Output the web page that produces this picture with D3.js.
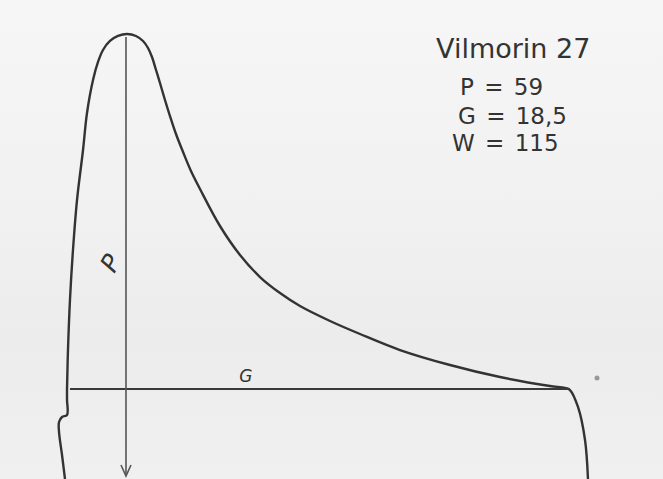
<!doctype html>
<html>
  <head>
    <meta charset="utf-8">
    <script src="https://cdnjs.cloudflare.com/ajax/libs/d3/7.8.5/d3.min.js"></script>
    <style>
      body { margin: 0; background: #f3f3f3; }
      svg { display: block; }
    </style>
  </head>
  <body>
    <div id="viz"></div>
    <script>
      // alveogram, mm on the recording (x = length, y = pressure)
      let curveX = [-0.17, -0.66, -1.16, -1.16, -0.66, 0.17, 0.17, 0.17, 0.33, 0.66, 1.16, 1.83, 2.83, 3.49, 4.49, 5.32, 6.15, 7.31, 8.64, 10.14, 11.63, 12.80, 13.63, 14.29, 14.96, 15.62, 16.45, 17.28, 18.28, 19.45, 20.77, 22.27, 25.59, 28.92, 32.24, 35.57, 38.89, 43.88, 48.86, 55.51, 63.82, 72.13, 80.44, 82.93, 83.76, 85.09, 86.26, 86.75];
      let curveY = [-14.96, -10.97, -7.15, -5.48, -4.65, -4.32, -1.83, 0, 6.48, 14.79, 23.10, 31.41, 39.72, 45.87, 51.35, 54.35, 56.34, 57.84, 58.67, 59, 58.67, 57.84, 56.67, 55.17, 53.02, 50.86, 48.03, 45.37, 42.38, 39.39, 36.23, 33.24, 27.09, 22.27, 18.61, 15.95, 13.79, 11.30, 9.14, 6.48, 3.99, 1.99, 0.50, 0.17, -0.17, -2.99, -8.48, -14.96];

      let baseX = [0.66, 83.76];       // G line
      let arrowX = 9.97;               // P arrow
      let arrowY = [58.5, -14.46];

      let title = "Vilmorin 27";
      let values = ["P = 59", "G = 18,5", "W = 115"];

      var width = 663, height = 479;

      var svg = d3.select("#viz").append("svg")
        .attr("width", width)
        .attr("height", height);

      var defs = svg.append("defs");
      var grad = defs.append("linearGradient")
        .attr("id", "paper").attr("x1", 0).attr("y1", 0).attr("x2", 0).attr("y2", 1);
      grad.append("stop").attr("offset", "0%").attr("stop-color", "#f6f6f6");
      grad.append("stop").attr("offset", "45%").attr("stop-color", "#f1f1f1");
      grad.append("stop").attr("offset", "70%").attr("stop-color", "#ececec");
      grad.append("stop").attr("offset", "100%").attr("stop-color", "#f0f0f0");

      svg.append("rect")
        .attr("width", width).attr("height", height)
        .attr("fill", "url(#paper)");

      var x = d3.scaleLinear().domain([0, 84]).range([66, 66 + 84 * 6.017]);
      var y = d3.scaleLinear().domain([0, 59]).range([389, 34]);

      var pts = curveX.map((d, i) => [d, curveY[i]]);

      var line = d3.line()
        .x(d => x(d[0]))
        .y(d => y(d[1]))
        .curve(d3.curveCatmullRom.alpha(0.5));

      svg.append("path")
        .attr("d", line(pts))
        .attr("fill", "none")
        .attr("stroke", "#333")
        .attr("stroke-width", 2.4)
        .attr("stroke-linejoin", "round");

      // G baseline
      svg.append("line")
        .attr("x1", x(baseX[0])).attr("x2", x(baseX[1]))
        .attr("y1", y(0)).attr("y2", y(0))
        .attr("stroke", "#3a3a3a")
        .attr("stroke-width", 2);

      // P arrow
      svg.append("line")
        .attr("x1", x(arrowX)).attr("x2", x(arrowX))
        .attr("y1", y(arrowY[0])).attr("y2", y(arrowY[1]))
        .attr("stroke", "#555")
        .attr("stroke-width", 1.6);

      var ax = x(arrowX), top = y(arrowY[0]), bot = y(arrowY[1]);
      svg.append("path")
        .attr("d", "M" + (ax - 3) + "," + (top + 10) + "L" + ax + "," + top + "L" + (ax + 3) + "," + (top + 10))
        .attr("fill", "none").attr("stroke", "#444").attr("stroke-width", 2);
      svg.append("path")
        .attr("d", "M" + (ax - 5) + "," + (bot - 11) + "L" + ax + "," + bot + "L" + (ax + 5) + "," + (bot - 11))
        .attr("fill", "none").attr("stroke", "#555").attr("stroke-width", 1.6);

      // curve labels
      svg.append("text")
        .attr("transform", "translate(" + (x(arrowX) - 8) + "," + y(20.2) + ") rotate(-60)")
        .attr("text-anchor", "middle")
        .style("font-family", "DejaVu Sans")
        .style("font-style", "italic")
        .style("font-size", "25px")
        .attr("fill", "#333")
        .text("P");

      svg.append("text")
        .attr("x", x(29.9)).attr("y", y(1.2))
        .attr("text-anchor", "middle")
        .style("font-family", "DejaVu Sans")
        .style("font-style", "italic")
        .style("font-size", "17px")
        .attr("fill", "#333")
        .text("G");

      // stray ink dot
      svg.append("circle")
        .attr("cx", x(88.25)).attr("cy", y(1.83)).attr("r", 2.5)
        .attr("fill", "#999");

      svg.append("text")
        .attr("x", 436).attr("y", 58)
        .style("font-family", "DejaVu Sans")
        .style("font-size", "27px")
        .attr("fill", "#333")
        .text(title);

      var vx = [460, 458, 452];
      var vy = [95, 124, 151];
      svg.selectAll("text.val")
        .data(values)
        .enter()
        .append("text")
          .attr("class", "val")
          .attr("x", (d, i) => vx[i])
          .attr("y", (d, i) => vy[i])
          .style("font-family", "DejaVu Sans")
          .style("font-size", "23px")
          .style("word-spacing", "3px")
          .attr("fill", "#333")
          .text(d => d);
    </script>
  </body>
</html>
